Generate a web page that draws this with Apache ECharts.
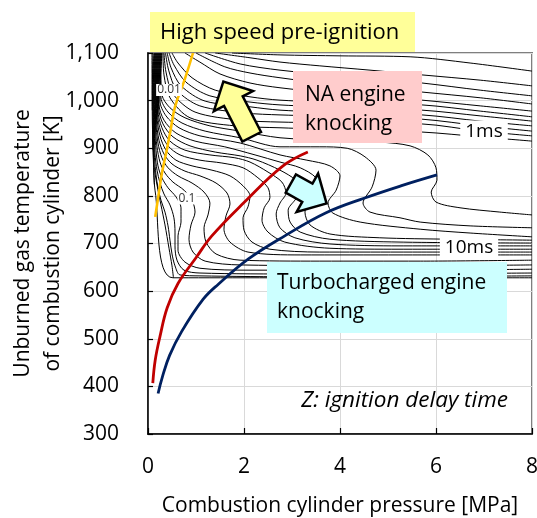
<!DOCTYPE html>
<html>
<head>
<meta charset="utf-8">
<script src="https://cdn.jsdelivr.net/npm/echarts@6/dist/echarts.min.js"></script>
<style>html,body{margin:0;padding:0;background:#fff}#main{width:537px;height:518px}</style>
</head>
<body>
<div id="main"></div>
<script>
// Axis ticks
const pressureTicks = [0, 2, 4, 6, 8];           // MPa
const temperatureTicks = [300, 400, 500, 600, 700, 800, 900, 1000, 1100]; // K

// Ignition delay iso-lines, [pressure MPa, temperature K]
// short-delay family (upper right)
const iso01 = [[1.75,1100],[2.75,1096],[4.0,1094],[5.46,1092],[6.71,1079],[8.0,1062]];
const iso02 = [[1.40,1100],[2.125,1090],[2.75,1081],[3.58,1073],[4.625,1064],[5.71,1054],[6.92,1043],[8.0,1031]];
const iso03 = [[1.19,1100],[1.92,1077],[2.75,1064],[3.79,1054],[4.83,1045],[5.71,1037],[6.92,1022],[8.0,1010]];
const iso04 = [[1.0,1100],[1.60,1071],[2.125,1058],[2.75,1048],[3.79,1035],[4.83,1027],[5.71,1018],[6.92,1006],[8.0,993]];
const iso05 = [[0.77,1100],[1.08,1081],[1.5,1056],[2.125,1037],[2.75,1027],[3.79,1016],[4.83,1008],[5.71,1001],[6.92,989],[8.0,978]];
const iso06 = [[0.5,1100],[0.625,1079],[0.917,1048],[1.40,1022],[2.125,1008],[2.75,1001],[4.21,995],[5.71,991],[6.92,978],[8.0,966]];
const iso07 = [[0.44,1100],[0.54,1075],[0.79,1039],[1.29,1010],[2.125,997],[2.75,991],[4.21,985],[5.71,980],[6.92,968],[8.0,957]];
const iso08 = [[0.40,1100],[0.48,1069],[0.69,1031],[1.19,999],[2.125,987],[2.75,980],[4.21,974],[5.71,970],[6.92,957],[8.0,947]];
const iso09 = [[0.365,1100],[0.43,1064],[0.60,1022],[1.08,989],[2.02,974],[2.75,970],[4.21,966],[5.71,961],[6.92,947],[8.0,936]];
const iso10 = [[0.333,1100],[0.375,1060],[0.52,1014],[0.98,976],[1.92,959],[2.75,955],[4.21,953],[5.71,951],[6.92,936],[8.0,926]];
const iso11 = [[0.3125,1100],[0.333,1054],[0.458,1006],[0.875,964],[1.81,947],[2.75,943],[4.21,938],[5.71,934],[6.92,924],[8.0,915]];
// NTC family (S-shaped bulge)
const iso12 = [[0.29,1100],[0.27,1054],[0.29,1012],[0.458,985],[0.77,964],[1.29,947],[1.92,936],[2.75,922],[3.79,917],[4.83,913],[5.46,905],[5.83,886],[6.0,859],[6.02,833],[5.90,808],[6.0,787],[6.5,775],[7.33,766],[8.0,760]];
const iso13 = [[0.28,1100],[0.26,1054],[0.27,1006],[0.417,976],[0.708,953],[1.19,936],[1.92,922],[2.75,903],[3.58,903],[4.15,900],[4.52,882],[4.75,854],[4.67,819],[4.48,785],[4.625,766],[5.25,754],[5.67,745],[6.71,737],[8.0,733]];
const iso14 = [[0.27,1100],[0.25,1054],[0.25,999],[0.375,968],[0.646,943],[1.083,926],[1.92,911],[2.75,886],[3.31,875],[3.79,863],[4.0,842],[3.92,812],[3.75,785],[3.85,764],[4.42,745],[5.67,730],[6.71,722],[8.0,714]];
const iso15 = [[0.26,1100],[0.24,1054],[0.229,993],[0.333,959],[0.583,932],[0.98,915],[1.60,903],[2.23,886],[2.75,871],[3.17,859],[3.5,838],[3.58,812],[3.42,791],[3.27,766],[3.375,739],[3.79,720],[4.83,712],[6.29,709],[8.0,707]];
const iso16 = [[0.25,1100],[0.229,1054],[0.219,987],[0.3125,951],[0.52,924],[0.875,905],[1.40,892],[1.92,884],[2.27,875],[2.75,854],[3.08,833],[3.21,812],[3.06,791],[2.92,770],[2.96,745],[3.17,724],[3.79,709],[5.25,703],[8.0,701]];
const iso17 = [[0.24,1100],[0.219,1054],[0.208,980],[0.29,943],[0.458,915],[0.77,896],[1.29,886],[1.81,880],[2.125,871],[2.5,850],[2.79,829],[2.875,806],[2.75,785],[2.67,762],[2.75,733],[3.06,712],[3.79,699],[5.25,695],[8.0,695]];
const iso18 = [[0.229,1100],[0.208,1054],[0.198,974],[0.27,934],[0.417,905],[0.667,886],[1.083,875],[1.54,869],[1.98,859],[2.29,838],[2.5,817],[2.54,796],[2.42,775],[2.375,749],[2.5,724],[2.85,703],[3.79,690],[5.25,688],[8.0,688]];
const iso19 = [[0.219,1100],[0.198,1054],[0.1875,968],[0.25,926],[0.375,896],[0.583,875],[0.917,863],[1.333,854],[1.708,842],[1.98,821],[2.125,800],[2.083,777],[1.98,754],[2.0,728],[2.167,703],[2.54,688],[3.58,682],[5.25,682],[8.0,682]];
const iso20 = [[0.208,1100],[0.1875,1054],[0.177,961],[0.229,917],[0.333,888],[0.5,867],[0.77,852],[1.083,842],[1.417,827],[1.646,806],[1.708,783],[1.625,758],[1.583,730],[1.708,703],[2.083,682],[3.17,676],[5.25,676],[8.0,676]];
// long-delay family (low temperature)
const iso21 = [[0.198,1100],[0.177,1054],[0.167,955],[0.208,911],[0.29,880],[0.417,859],[0.625,842],[0.917,827],[1.167,808],[1.29,785],[1.25,760],[1.167,733],[1.21,703],[1.417,678],[1.917,665],[3.58,663],[5.67,663],[8.0,665]];
const iso22 = [[0.1875,1100],[0.167,1054],[0.156,947],[0.1875,903],[0.25,871],[0.354,848],[0.52,829],[0.75,812],[0.917,791],[0.98,766],[0.896,739],[0.854,709],[0.9375,682],[1.19,663],[1.917,655],[5.25,653],[8.0,655]];
const iso23 = [[0.177,1100],[0.156,1054],[0.146,938],[0.167,896],[0.208,863],[0.29,838],[0.417,817],[0.583,798],[0.6875,775],[0.6875,745],[0.625,716],[0.625,686],[0.77,661],[1.083,648],[2.125,644],[5.25,644],[8.0,646]];
const iso24 = [[0.167,1100],[0.146,1054],[0.135,930],[0.146,888],[0.1875,854],[0.25,827],[0.333,804],[0.458,781],[0.54,754],[0.5625,724],[0.5625,695],[0.604,665],[0.75,644],[1.083,638],[3.17,636],[8.0,638]];
const iso25 = [[0.156,1100],[0.135,1054],[0.125,922],[0.135,880],[0.167,844],[0.208,817],[0.27,791],[0.354,766],[0.417,737],[0.458,707],[0.5,678],[0.5625,653],[0.667,634],[1.083,632],[3.17,630],[8.0,632]];
const iso26 = [[0.146,1100],[0.125,1054],[0.115,913],[0.125,865],[0.1875,823],[0.27,781],[0.354,739],[0.4375,690],[0.5,653],[0.53,628]];
const iso27 = [[0.135,1100],[0.115,1054],[0.104,917],[0.115,865],[0.135,823]];
const iso28 = [[0.125,1100],[0.104,1054],[0.10,938],[0.104,896]];
const iso29 = [[0.104,1100],[0.094,1054],[0.09,980]];
// edge of the computed map
const mapEdge = [[0.083,1100],[0.09,959],[0.115,875],[0.146,812],[0.52,628],[8.0,628]];

const isoLines = [iso01,iso02,iso03,iso04,iso05,iso06,iso07,iso08,iso09,iso10,iso11,
  iso12,iso13,iso14,iso15,iso16,iso17,iso18,iso19,iso20,
  iso21,iso22,iso23,iso24,iso25,iso26,iso27,iso28,iso29,mapEdge];

// Operating lines
const preIgnitionP = [0.15,0.22,0.29,0.39,0.47,0.5625,0.76,0.9375];
const preIgnitionT = [756,802,848,896,938,987,1043,1100];
const naKnockP = [0.10,0.15,0.25,0.4,0.625,1.0,1.33,2.0,2.8,3.33];
const naKnockT = [407,455,505,565,616,670,716,786,862,892];
const turboKnockP = [0.21,0.3,0.45,0.7,1.15,1.46,2.1,2.85,3.7,4.5,5.3,6.02];
const turboKnockT = [385,420,465,515,583,614,668,716,764,795,822,844];

// Direction arrows: [tail P, tail T, tip P, tip T]
const arrows = [[2.16,924,1.57,1040],[2.975,826,3.72,784]];
const arrowFills = ['#FFFF99','#CCFFFF'];

const FONT = '"Open Sans", "Noto Sans", sans-serif';
const zip = (xs, ys) => xs.map((x, i) => [x, ys[i]]);

const chart = echarts.init(document.getElementById('main'), null, {renderer: 'canvas'});

const series = isoLines.map(d => ({
  type: 'line', data: d, showSymbol: false, smooth: 0.3, silent: true, z: 2,
  lineStyle: {color: '#000', width: 1}
}));

series.push(
  {type:'line', data: zip(preIgnitionP, preIgnitionT), showSymbol:false, smooth:0.4, silent:true, z:5,
   lineStyle:{color:'#FFC000', width:2.6}},
  {type:'line', data: zip(naKnockP, naKnockT), showSymbol:false, smooth:0.4, silent:true, z:5,
   lineStyle:{color:'#C00000', width:2.8}},
  {type:'line', data: zip(turboKnockP, turboKnockT), showSymbol:false, smooth:0.4, silent:true, z:5,
   lineStyle:{color:'#002060', width:2.8}},
  {type:'custom', data: arrows, silent:true, z:8,
   renderItem: function (params, api) {
     const a = api.coord([api.value(0), api.value(1)]);
     const b = api.coord([api.value(2), api.value(3)]);
     const dx = b[0]-a[0], dy = b[1]-a[1];
     const len = Math.hypot(dx, dy);
     const ux = dx/len, uy = dy/len, nx = -uy, ny = ux;
     const headLen = 22, headHalf = 22, shaftHalf = 10.5;
     const hb = [b[0]-ux*headLen, b[1]-uy*headLen];
     const pts = [
       [a[0]+nx*shaftHalf, a[1]+ny*shaftHalf],
       [hb[0]+nx*shaftHalf, hb[1]+ny*shaftHalf],
       [hb[0]+nx*headHalf, hb[1]+ny*headHalf],
       b,
       [hb[0]-nx*headHalf, hb[1]-ny*headHalf],
       [hb[0]-nx*shaftHalf, hb[1]-ny*shaftHalf],
       [a[0]-nx*shaftHalf, a[1]-ny*shaftHalf]
     ];
     return {type:'polygon', shape:{points:pts},
       style:{fill: arrowFills[params.dataIndex], stroke:'#000', lineWidth:2.5, lineJoin:'miter'}};
   }}
);

function label(x, y, text, opts) {
  return Object.assign({type:'text', x:x, y:y, z:60,
    style: Object.assign({text:text, fill:'#000', fontFamily:FONT, fontSize:21,
      align:'left', verticalAlign:'middle', textAlign:'left', textVerticalAlign:'middle'}, opts || {})});
}

chart.setOption({
  animation: false,
  backgroundColor: '#fff',
  grid: {left:148, right:5, top:53, bottom:84, show:true, borderColor:'#7f7f7f', borderWidth:2,
         containLabel:false, outerBoundsMode:'none'},
  xAxis: {
    type:'value', min:pressureTicks[0], max:pressureTicks[pressureTicks.length-1], interval:2,
    name:'Combustion cylinder pressure [MPa]', nameLocation:'middle', nameGap:62, nameMoveOverlap:false,
    nameTextStyle:{fontFamily:FONT, fontSize:21, color:'#000'},
    axisLine:{show:true, onZero:false, lineStyle:{color:'#000', width:1.5}},
    axisTick:{show:true, inside:true, length:6, lineStyle:{color:'#000', width:1.2}},
    axisLabel:{fontFamily:FONT, fontSize:21, color:'#000', margin:23},
    splitLine:{show:true, lineStyle:{color:'#d9d9d9', width:1}}
  },
  yAxis: {
    type:'value', min:temperatureTicks[0], max:temperatureTicks[temperatureTicks.length-1], interval:100,
    name:'Unburned gas temperature\nof combustion cylinder [K]', nameLocation:'middle', nameGap:80, nameMoveOverlap:false,
    nameTextStyle:{fontFamily:FONT, fontSize:21, color:'#000', lineHeight:30},
    axisLine:{show:true, onZero:false, lineStyle:{color:'#000', width:1.5}},
    axisTick:{show:true, inside:true, length:5, lineStyle:{color:'#000', width:1.2}},
    axisLabel:{fontFamily:FONT, fontSize:21, color:'#000', margin:29,
      formatter: v => v.toLocaleString('en-US')},
    splitLine:{show:true, lineStyle:{color:'#d9d9d9', width:1}}
  },
  series: series,
  graphic: [
    {type:'rect', z:50, shape:{x:150, y:12, width:265, height:40}, style:{fill:'#FFFF99'}},
    label(160, 32.5, 'High speed pre-ignition', {fontSize:22}),
    {type:'rect', z:50, shape:{x:293, y:71, width:129, height:72}, style:{fill:'#FFCCCC'}},
    label(305, 95, 'NA engine'),
    label(305, 124, 'knocking'),
    {type:'rect', z:50, shape:{x:267, y:262, width:240, height:71}, style:{fill:'#CCFFFF'}},
    label(277, 283, 'Turbocharged engine'),
    label(277, 312, 'knocking'),
    label(484, 132, '1ms', {align:'center', textAlign:'center', fontSize:19, backgroundColor:'#fff', padding:[2,5]}),
    label(469, 248, '10ms', {align:'center', textAlign:'center', fontSize:19, backgroundColor:'#fff', padding:[2,5]}),
    label(508, 401, 'Z: ignition delay time', {align:'right', textAlign:'right', fontSize:22.5, fontStyle:'italic'}),
    label(169, 90, '0.01', {align:'center', textAlign:'center', fontSize:12, fill:'#333', backgroundColor:'#fff', padding:[0,1]}),
    label(187, 198.5, '0.1', {align:'center', textAlign:'center', fontSize:12, fill:'#333', backgroundColor:'#fff', padding:[0,1]})
  ]
});
</script>
</body>
</html>
